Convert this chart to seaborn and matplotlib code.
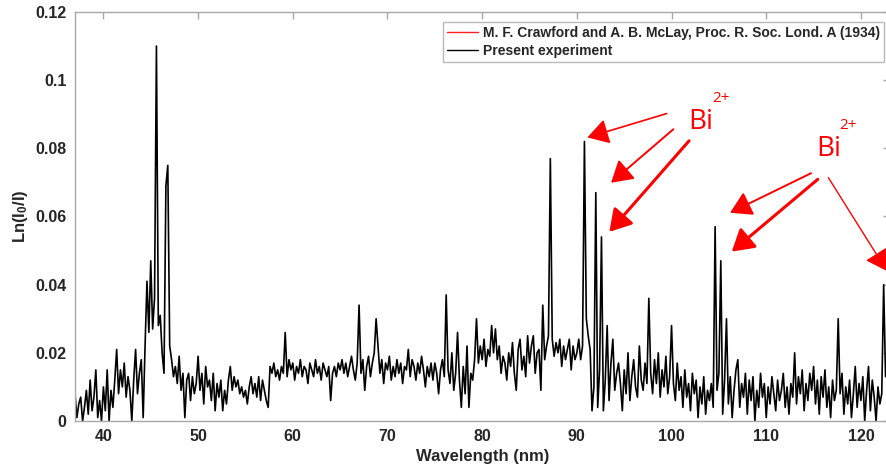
import numpy as np
import pandas as pd
import matplotlib
matplotlib.use("Agg")
import matplotlib.pyplot as plt
from matplotlib.lines import Line2D
import seaborn as sns

# ---- data (Ln(I0/I) in units of 1e-3, sampled every 0.2 nm from 37.0 nm) ----
wl_start = 37.0
wl_step = 0.2
absorb_37_46 = [8, 1, 5, 7, 0,  4, 9, 2, 12, 3,  7, 15, 1, 6, 0,  10, 3, 15, 0, 9,
                4, 12, 21, 8, 15,  10, 17, 7, 13, 9,  0, 12, 21, 8, 14,  18, 1, 22, 41, 26,
                47, 27, 36, 110, 28,  31, 20, 14, 69, 75]
absorb_47_56 = [22, 18, 13, 16, 11,  19, 9, 14, 1, 12,  14, 6, 13, 8, 11,  19, 9, 14, 5, 16,
                10, 12, 6, 14, 3,  11, 7, 12, 3, 9,  5, 12, 16, 9, 13,  10, 12, 8, 10, 7,
                9, 5, 10, 13, 8,  11, 7, 13, 6, 12]
absorb_57_66 = [9, 6, 4, 16, 14,  17, 13, 15, 12, 16,  14, 26, 13, 18, 15,  17, 12, 16, 14, 18,
                13, 16, 15, 11, 17,  15, 13, 18, 14, 16,  12, 17, 15, 13, 16,  6, 14, 16, 13, 17,
                15, 18, 14, 17, 13,  16, 19, 15, 12, 17]
absorb_67_76 = [34, 14, 18, 9, 16,  19, 13, 17, 20, 30,  22, 14, 18, 11, 17,  15, 19, 12, 16, 13,
                18, 14, 17, 11, 16,  15, 21, 13, 18, 16,  12, 17, 14, 19, 15,  10, 16, 13, 17, 12,
                17, 14, 8, 15, 18,  13, 37, 15, 11, 20]
absorb_77_86 = [9, 14, 26, 12, 4,  16, 8, 22, 4, 14,  12, 18, 30, 17, 22,  18, 24, 16, 21, 19,
                28, 20, 27, 18, 22,  14, 19, 17, 12, 20,  16, 23, 14, 9, 21,  24, 15, 19, 13, 25,
                17, 22, 25, 14, 20,  21, 9, 34, 18, 22]
absorb_87_96 = [25, 77, 24, 19, 23,  20, 24, 16, 22, 18,  21, 24, 15, 22, 18,  20, 24, 18, 22, 82,
                30, 25, 21, 3, 10,  67, 4, 15, 54, 3,  12, 28, 6, 17, 24,  9, 14, 17, 11, 3,
                15, 8, 20, 6, 13,  18, 10, 7, 22, 12]
absorb_97_106 = [9, 17, 11, 36, 14,  8, 18, 11, 20, 7,  15, 10, 19, 8, 13,  28, 11, 6, 17, 9,
                 13, 4, 15, 7, 11,  3, 14, 8, 12, 1,  10, 5, 13, 2, 9,  6, 11, 4, 57, 9,
                 14, 47, 2, 12, 30,  5, 13, 1, 9, 15]
absorb_107_116 = [18, 4, 11, 7, 14,  2, 12, 6, 13, 0,  9, 4, 14, 7, 11,  1, 10, 5, 13, 8,
                  3, 12, 6, 9, 14,  4, 10, 2, 11, 7,  20, 5, 13, 8, 15,  3, 11, 6, 14, 9,
                  16, 5, 12, 2, 13,  7, 15, 4, 10, 1]
absorb_117_122 = [12, 6, 9, 30, 8,  14, 2, 10, 5, 12,  1, 8, 16, 4, 11,  6, 13, 0, 9, 16,
                  3, 12, 7, 0, 10,  5, 8, 40, 13]

x_ticks = [40, 50, 60, 70, 80, 90, 100, 110, 120]
y_ticks = [0, 0.02, 0.04, 0.06, 0.08, 0.1, 0.12]
y_ticklabels = ["0", "0.02", "0.04", "0.06", "0.08", "0.1", "0.12"]
legend_labels = ["M. F. Crawford and A. B. McLay, Proc. R. Soc. Lond. A (1934)",
                 "Present experiment"]

milli = np.array(absorb_37_46 + absorb_47_56 + absorb_57_66 + absorb_67_76 + absorb_77_86
                 + absorb_87_96 + absorb_97_106 + absorb_107_116 + absorb_117_122, dtype=float)
wl = wl_start + wl_step * np.arange(len(milli))
df = pd.DataFrame({"Wavelength": wl, "Absorbance": milli / 1000.0})

# ---- style ----
sns.set_style("white")
plt.rcParams["font.family"] = ["Liberation Sans", "DejaVu Sans"]
plt.rcParams["mathtext.fontset"] = "custom"
plt.rcParams["mathtext.rm"] = "Liberation Sans:bold"
plt.rcParams["mathtext.bf"] = "Liberation Sans:bold"
plt.rcParams["mathtext.default"] = "rm"

W, H = 886, 472
fig = plt.figure(figsize=(W / 100, H / 100), dpi=100)
ax = fig.add_axes([75 / W, (H - 421) / H, (890 - 75) / W, (421 - 12) / H])

sns.lineplot(data=df, x="Wavelength", y="Absorbance", ax=ax, color="black",
             linewidth=1.2, estimator=None, sort=False)

ax.set_xlim(37.0, 123.07)
ax.set_ylim(0, 0.12)
ax.set_xticks(x_ticks)
ax.set_xticklabels([str(t) for t in x_ticks])
ax.set_yticks(y_ticks)
ax.set_yticklabels(y_ticklabels)

spine_c = "#a8a8a8"
for s in ax.spines.values():
    s.set_color(spine_c)
    s.set_linewidth(1.0)
ax.tick_params(axis="both", which="both", direction="in", length=5, width=1,
               color=spine_c, top=True, right=True, labelsize=11.5,
               labelcolor="#262626", pad=6)
for lab in ax.get_xticklabels() + ax.get_yticklabels():
    lab.set_fontweight("bold")

ax.set_xlabel("Wavelength (nm)", fontsize=12, fontweight="bold", color="#262626", labelpad=3)
ax.set_ylabel(r"Ln(I$_{0}$/I)", fontsize=12, fontweight="bold", color="#262626", labelpad=4)

# ---- legend ----
handles = [Line2D([], [], color="#ff2020", lw=1.0), Line2D([], [], color="black", lw=1.0)]
leg = fig.legend(handles, legend_labels, loc="upper right",
                 bbox_to_anchor=(884 / W, 1 - 22 / H), bbox_transform=fig.transFigure,
                 frameon=True, fancybox=False, shadow=False, borderaxespad=0,
                 prop={"weight": "bold", "size": 10}, handlelength=2.2,
                 handletextpad=0.35, labelspacing=0.25, borderpad=0.3)
leg.get_frame().set_edgecolor(spine_c)
leg.get_frame().set_linewidth(1.0)
for t in leg.get_texts():
    t.set_color("#262626")

# ---- Bi2+ annotations ----
red = "#ff0000"
def arrow(start, tip, lw, ms):
    ax.annotate("", xy=tip, xytext=start, xycoords="data", textcoords="data",
                annotation_clip=False,
                arrowprops=dict(arrowstyle="-|>,head_length=0.5,head_width=0.3",
                                color=red, lw=lw, mutation_scale=ms,
                                shrinkA=0, shrinkB=0))

arrow((99.49, 0.0902), (91.11, 0.0832), 1.2, 26)
arrow((100.19, 0.0856), (93.61, 0.0699), 1.4, 26)
arrow((101.85, 0.0822), (93.43, 0.0555), 2.2, 26)
arrow((114.73, 0.0727), (106.18, 0.0611), 1.4, 26)
arrow((115.44, 0.0709), (106.36, 0.0497), 2.2, 26)
arrow((116.56, 0.0714), (122.75, 0.0440), 1.0, 26)

ax.text(101.75, 0.0856, "Bi", color=red, fontsize=20, ha="left", va="baseline",
        family=["Open Sans", "DejaVu Sans"])
ax.text(104.3, 0.0936, "2+", color=red, fontsize=11, ha="left", va="baseline",
        family=["Open Sans", "DejaVu Sans"])
ax.text(115.26, 0.0777, "Bi", color=red, fontsize=20, ha="left", va="baseline",
        family=["Open Sans", "DejaVu Sans"])
ax.text(117.7, 0.0856, "2+", color=red, fontsize=11, ha="left", va="baseline",
        family=["Open Sans", "DejaVu Sans"])

fig.savefig("out.png", dpi=100)
